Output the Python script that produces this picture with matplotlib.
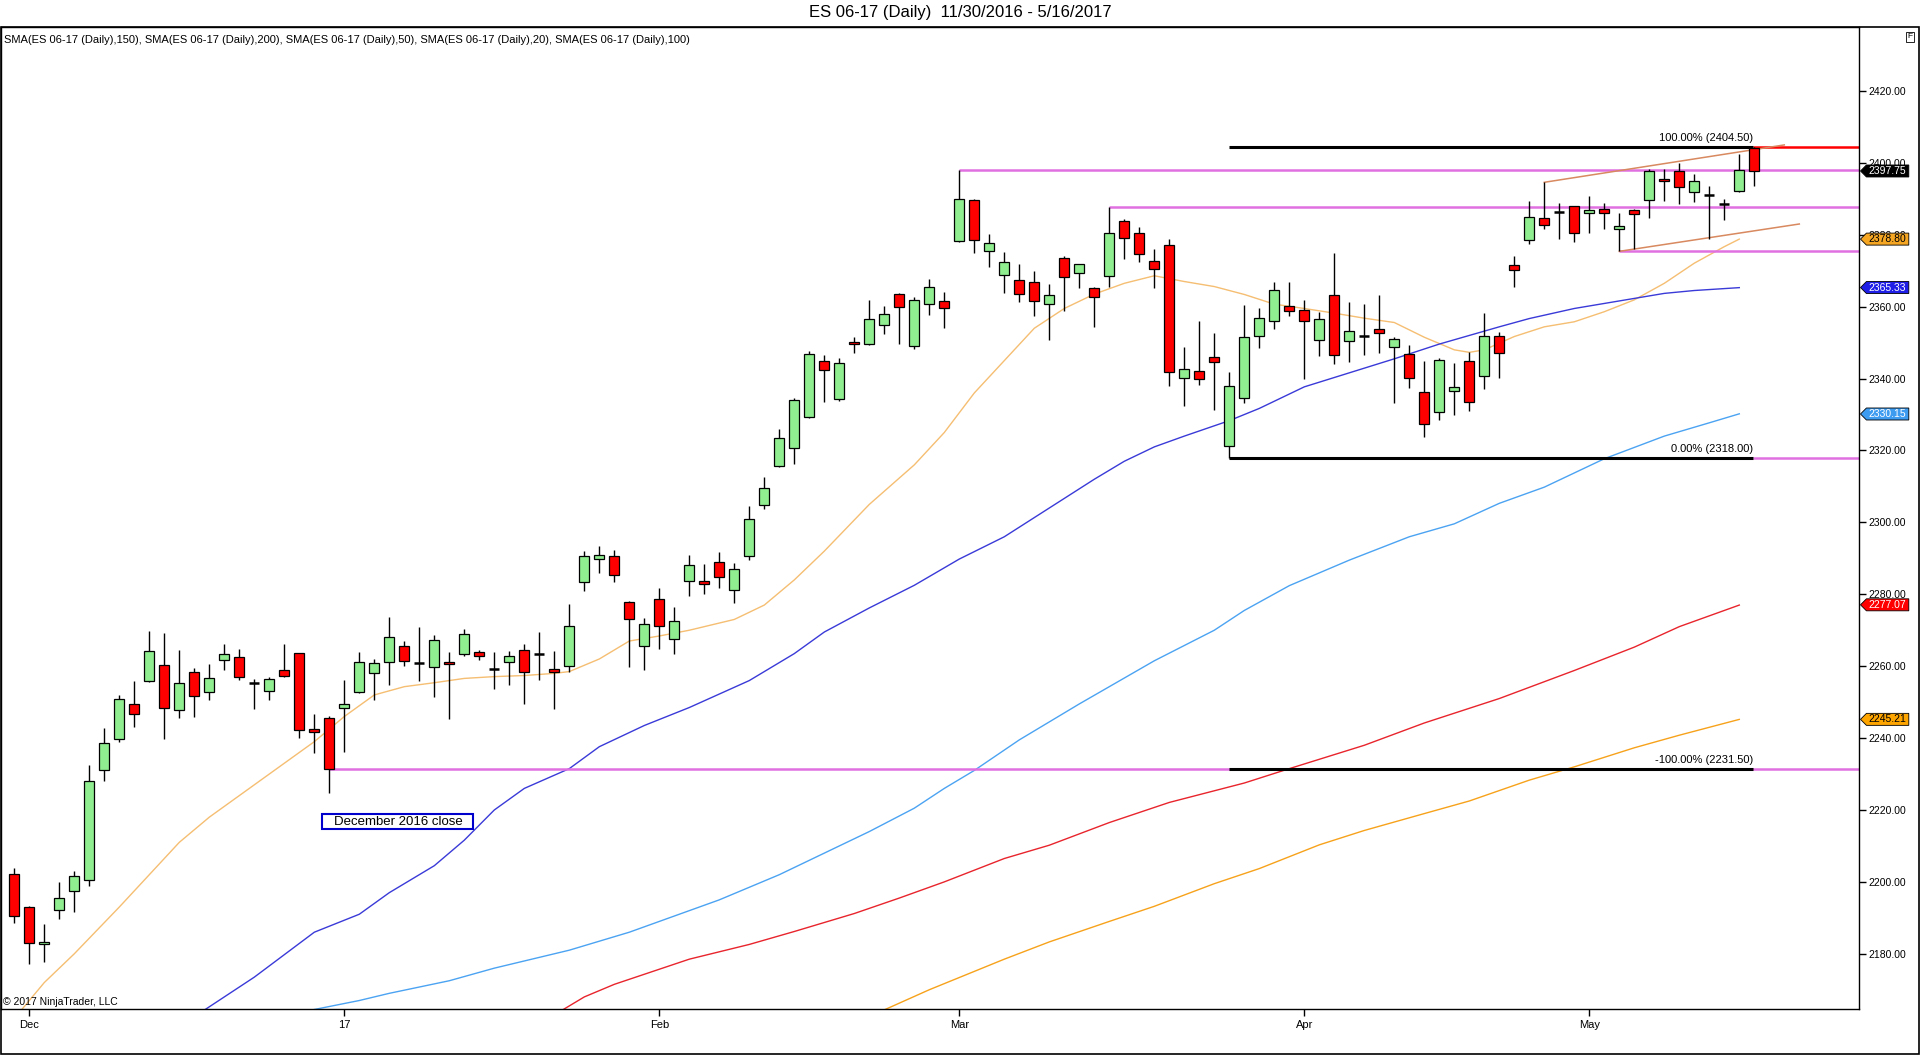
import matplotlib
matplotlib.use('Agg')
import matplotlib.pyplot as plt
from matplotlib.patches import Rectangle, Polygon
import numpy as np

plt.rcParams['font.family'] = ['Liberation Sans', 'DejaVu Sans']

# daily bars 11/30/2016 .. 5/16/2017 (index 0 = Nov 30)
opens = [2202.2, 2192.9, 2182.6, 2192.2, 2197.4, 2200.4, 2231.1, 2239.7, 2249.4, 2256.0,
         2260.2, 2247.7, 2258.3, 2252.7, 2261.6, 2262.5, 2255.4, 2253.2, 2258.9, 2263.6,
         2242.5, 2245.5, 2248.5, 2252.9, 2258.2, 2261.3, 2265.5, 2261.0, 2259.9, 2261.2,
         2263.3, 2263.9, 2259.1, 2261.3, 2264.4, 2263.3, 2259.1, 2260.1, 2283.3, 2289.7,
         2290.6, 2277.8, 2265.5, 2278.7, 2267.5, 2283.6, 2283.6, 2288.9, 2281.1, 2290.6,
         2304.7, 2315.8, 2320.6, 2329.4, 2344.8, 2334.4, 2350.3, 2349.7, 2354.8, 2363.4,
         2349.0, 2360.7, 2361.5, 2378.4, 2389.6, 2375.6, 2368.9, 2367.4, 2366.8, 2360.7,
         2373.5, 2369.3, 2365.1, 2368.6, 2383.7, 2380.4, 2372.6, 2377.1, 2340.1, 2342.2,
         2346.1, 2321.2, 2334.5, 2351.8, 2355.9, 2360.1, 2359.0, 2350.6, 2363.2, 2350.4,
         2351.9, 2353.9, 2348.9, 2346.8, 2336.2, 2330.6, 2336.5, 2344.8, 2340.8, 2351.9,
         2371.5, 2378.5, 2384.6, 2386.4, 2387.9, 2386.0, 2387.3, 2381.6, 2386.8, 2389.8,
         2395.6, 2397.7, 2391.8, 2391.2, 2388.7, 2392.3, 2404.2]
highs = [2204.0, 2193.2, 2188.2, 2200.0, 2203.0, 2232.5, 2242.7, 2252.0, 2255.9, 2269.8,
         2269.1, 2264.5, 2259.4, 2260.6, 2266.2, 2264.8, 2256.5, 2257.1, 2266.2, 2263.8,
         2246.7, 2246.1, 2256.2, 2263.9, 2262.0, 2273.8, 2267.0, 2271.0, 2268.7, 2263.9,
         2270.3, 2264.4, 2263.9, 2264.2, 2266.2, 2269.5, 2264.2, 2277.3, 2292.0, 2293.4,
         2292.3, 2278.1, 2273.3, 2281.8, 2276.5, 2290.9, 2288.4, 2291.8, 2288.6, 2304.6,
         2312.7, 2326.0, 2334.5, 2347.8, 2346.6, 2345.6, 2351.6, 2361.9, 2360.2, 2363.7,
         2362.6, 2367.7, 2364.0, 2398.0, 2390.0, 2380.2, 2375.3, 2371.9, 2369.9, 2366.3,
         2374.1, 2371.8, 2365.4, 2387.7, 2384.3, 2382.3, 2376.1, 2378.8, 2348.9, 2356.0,
         2352.7, 2341.7, 2360.4, 2359.6, 2366.8, 2366.8, 2361.9, 2358.5, 2374.9, 2361.2,
         2360.8, 2363.3, 2351.5, 2349.3, 2344.9, 2345.8, 2344.4, 2347.5, 2358.3, 2352.9,
         2374.1, 2389.4, 2394.6, 2388.9, 2388.0, 2390.8, 2388.9, 2386.0, 2387.2, 2398.2,
         2398.2, 2399.9, 2396.9, 2393.6, 2389.9, 2402.4, 2404.5]
lows = [2188.5, 2177.1, 2177.8, 2189.8, 2191.7, 2198.8, 2228.2, 2239.0, 2243.2, 2255.7,
        2239.7, 2245.7, 2246.0, 2250.6, 2258.8, 2256.2, 2248.2, 2250.6, 2257.1, 2240.1,
        2235.9, 2224.6, 2236.0, 2252.6, 2250.6, 2254.8, 2260.1, 2255.9, 2251.5, 2245.2,
        2262.9, 2261.8, 2253.7, 2254.8, 2249.6, 2256.2, 2248.2, 2258.3, 2281.0, 2286.0,
        2283.5, 2259.9, 2258.8, 2264.9, 2263.3, 2279.6, 2280.2, 2281.8, 2277.7, 2289.6,
        2303.6, 2315.3, 2316.2, 2328.9, 2333.6, 2333.9, 2347.2, 2349.3, 2352.4, 2349.6,
        2348.3, 2357.8, 2354.2, 2378.1, 2374.8, 2371.1, 2363.9, 2361.4, 2357.5, 2350.8,
        2358.9, 2365.3, 2354.4, 2365.6, 2373.3, 2372.5, 2365.3, 2337.8, 2332.5, 2338.1,
        2331.4, 2318.0, 2333.3, 2348.6, 2353.9, 2357.5, 2339.8, 2346.4, 2344.0, 2344.7,
        2346.6, 2347.2, 2333.1, 2337.3, 2323.8, 2328.5, 2329.9, 2331.1, 2337.0, 2340.3,
        2365.6, 2377.3, 2381.7, 2378.7, 2378.0, 2380.6, 2381.7, 2375.4, 2376.0, 2384.7,
        2389.4, 2388.7, 2389.1, 2378.9, 2384.1, 2392.0, 2393.6]
closes = [2190.6, 2182.9, 2183.3, 2195.4, 2201.5, 2228.1, 2238.5, 2250.8, 2246.6, 2264.1,
          2248.5, 2255.2, 2251.8, 2256.6, 2263.3, 2257.1, 2255.4, 2256.3, 2257.4, 2242.2,
          2241.8, 2231.5, 2249.4, 2261.1, 2260.8, 2268.0, 2261.5, 2261.0, 2267.2, 2260.5,
          2268.9, 2262.7, 2259.1, 2262.7, 2258.3, 2263.3, 2258.5, 2271.2, 2290.6, 2290.8,
          2285.5, 2273.0, 2271.6, 2271.3, 2272.5, 2288.1, 2283.0, 2284.7, 2286.9, 2300.9,
          2309.5, 2323.4, 2334.0, 2346.8, 2342.5, 2344.2, 2349.5, 2356.5, 2357.9, 2360.0,
          2361.8, 2365.4, 2359.5, 2389.9, 2378.6, 2377.6, 2372.3, 2363.4, 2361.5, 2363.2,
          2368.2, 2371.8, 2362.6, 2380.4, 2379.2, 2374.6, 2370.4, 2341.7, 2342.8, 2339.8,
          2344.5, 2337.8, 2351.5, 2356.8, 2364.6, 2358.7, 2355.9, 2356.5, 2346.5, 2353.3,
          2351.9, 2352.6, 2351.1, 2340.3, 2327.3, 2345.1, 2337.6, 2333.4, 2351.8, 2347.0,
          2370.1, 2384.9, 2382.6, 2386.4, 2380.4, 2386.8, 2386.0, 2382.5, 2385.7, 2397.7,
          2394.9, 2393.2, 2395.1, 2391.2, 2388.7, 2398.1, 2397.75]

tick_pos = [1, 22, 43, 63, 86, 105]
tick_labels = ['Dec', '17', 'Feb', 'Mar', 'Apr', 'May']

# moving averages (bar index, value)
sma20_x = [0, 1, 2, 4, 7, 9, 11, 13, 16, 18, 20, 22, 24, 26, 28, 30, 32, 34, 36, 37, 39, 41, 43, 45,
           48, 50, 52, 54, 57, 60, 62, 64, 66, 68, 70, 72, 74, 76, 78, 80, 82, 84, 86, 88, 90, 92,
           94, 96, 97, 98, 100, 102, 104, 106, 108, 110, 112, 114, 115]
sma20_y = [2162, 2167, 2172, 2180, 2193, 2202, 2211, 2218, 2227, 2233, 2239, 2246, 2252, 2254.3,
           2255.4, 2256.6, 2257.1, 2257.4, 2258, 2258.5, 2262, 2267, 2268.4, 2270, 2273, 2277, 2284,
           2292, 2305, 2316, 2325, 2336, 2345, 2354, 2359.5, 2363.5, 2366.5, 2368.6, 2367, 2365.6,
           2363.4, 2360.7, 2359.5, 2358.2, 2356.8, 2355.6, 2351.5, 2348, 2347.3, 2348, 2351.7,
           2354.4, 2355.8, 2358.6, 2361.9, 2366.5, 2372.1, 2376.7, 2378.8]
sma50_x = [12, 16, 20, 23, 25, 28, 30, 32, 34, 37, 39, 42, 45, 49, 52, 54, 57, 60, 63, 66, 69, 72,
           74, 76, 78, 81, 83, 86, 89, 92, 95, 99, 101, 104, 106, 110, 112, 115]
sma50_y = [2162.5, 2173.5, 2186, 2191, 2197, 2204.5, 2211.6, 2220, 2226, 2231.5, 2237.6, 2243.5,
           2248.5, 2256, 2263.5, 2269.5, 2276.2, 2282.5, 2289.8, 2296, 2304, 2312, 2317, 2321,
           2324, 2328.3, 2331.7, 2337.7, 2341.6, 2345.5, 2349.6, 2354.4, 2356.7, 2359.5, 2360.9,
           2363.7, 2364.5, 2365.3]
sma100_x = [20, 23, 25, 29, 32, 37, 41, 43, 47, 51, 54, 57, 60, 62, 64, 67, 71, 76, 80, 82, 85, 89,
            93, 96, 99, 102, 106, 110, 113, 115]
sma100_y = [2164.5, 2167, 2169, 2172.5, 2176, 2181, 2186, 2189, 2195, 2202, 2208, 2214, 2220.5,
            2226, 2231, 2239.5, 2249.5, 2261.5, 2270, 2275.5, 2282.4, 2289.5, 2296, 2299.6, 2305.3,
            2309.8, 2317.7, 2324, 2327.7, 2330.2]
sma150_x = [36, 38, 40, 45, 49, 52, 56, 59, 62, 66, 69, 73, 77, 82, 85, 90, 94, 99, 104, 108, 111, 115]
sma150_y = [2163, 2168, 2171.5, 2178.5, 2182.6, 2186.2, 2191.2, 2195.5, 2200, 2206.5, 2210.2,
            2216.5, 2222.1, 2227.5, 2231.5, 2238, 2244.2, 2251, 2258.8, 2265.3, 2271, 2277.0]
sma200_x = [58, 61, 66, 69, 73, 76, 80, 83, 87, 90, 94, 97, 101, 104, 108, 111, 115]
sma200_y = [2164.4, 2170, 2178.5, 2183.3, 2189, 2193.2, 2199.5, 2203.7, 2210.3, 2214.3, 2219,
            2222.5, 2228.3, 2232, 2237.3, 2240.8, 2245.2]

fib_levels = [2404.50, 2318.00, 2231.50]
fib_labels = ['100.00% (2404.50)', '0.00% (2318.00)', '-100.00% (2231.50)']
tags = [(2397.75, '#000000', 'white'), (2378.80, '#F5A623', 'black'), (2365.33, '#1E1EE6', 'white'),
        (2330.15, '#3D9BF0', 'white'), (2277.07, '#FF0000', 'white'), (2245.21, '#FFA500', 'black')]

W, H = 1920, 1055
L, R, T, B = 1, 1859, 27, 1009
fig = plt.figure(figsize=(W / 100, H / 100), dpi=100)
ax = fig.add_axes([L / W, 1 - B / H, (R - L) / W, (B - T) / H])
ax.set_xlim((L - 14.3) / 15, (R - 14.3) / 15)
ax.set_ylim(2164.64, 2437.8)

# moving averages
ax.plot(sma20_x, sma20_y, color='#F5BE72', lw=1.0, zorder=1)
ax.plot(sma50_x, sma50_y, color='#3A3AD8', lw=1.0, zorder=1)
ax.plot(sma100_x, sma100_y, color='#4BA3F2', lw=1.0, zorder=1)
ax.plot(sma150_x, sma150_y, color='#E8242C', lw=1.0, zorder=1)
ax.plot(sma200_x, sma200_y, color='#F7A21B', lw=1.0, zorder=1)

# drawings
xmax = 124
mag = '#E070E0'
ax.hlines(2398.0, 63, xmax, color=mag, lw=1.8, zorder=1.5)
ax.hlines(2387.6, 73, xmax, color=mag, lw=1.8, zorder=1.5)
ax.hlines(2375.4, 107, xmax, color=mag, lw=1.8, zorder=1.5)
ax.hlines(2231.5, 21, xmax, color=mag, lw=1.8, zorder=1.5)
ax.hlines(2318.0, 115.9, xmax, color=mag, lw=1.8, zorder=1.5)
ax.hlines(2404.5, 115.9, xmax, color='#FF0000', lw=1.8, zorder=1.5)
for lvl, lab in zip(fib_levels, fib_labels):
    ax.hlines(lvl, 81, 115.9, color='black', lw=2.2, zorder=1.6)
    ax.text(115.9, lvl + 0.9, lab, ha='right', va='bottom', fontsize=8, zorder=4)
ax.plot([102, 118], [2394.6, 2405.0], color='#D8895F', lw=1.1, zorder=1.7)
ax.plot([107, 119], [2375.4, 2383.0], color='#D8895F', lw=1.1, zorder=1.7)

# candles
x = np.arange(len(opens))
o, h, l, c = map(np.array, (opens, highs, lows, closes))
ax.vlines(x, l, h, color='black', lw=1.0, zorder=2)
doji = np.abs(c - o) < 0.3
body_col = np.where(c >= o, '#90EE90', '#FF0000')
ax.bar(x[~doji], np.abs(c - o)[~doji], bottom=np.minimum(o, c)[~doji], width=0.667,
       color=body_col[~doji], edgecolor='black', linewidth=0.9, zorder=3)
ax.hlines(c[doji], x[doji] - 0.333, x[doji] + 0.333, color='black', lw=1.8, zorder=3)

# december close box
ax.add_patch(Rectangle((20.54, 2214.6), 10.04, 4.3, fill=False, ec='#0000CC', lw=1.5, zorder=4))
ax.text(21.3, 2216.75, 'December 2016 close', ha='left', va='center', fontsize=9.5, zorder=4)

# axes styling
ax.yaxis.tick_right()
yt = list(range(2180, 2421, 20))
ax.set_yticks(yt)
ax.set_yticklabels(['%.2f' % v for v in yt])
ax.set_xticks(tick_pos)
ax.set_xticklabels(tick_labels)
ax.tick_params(axis='y', direction='out', length=5, width=1, labelsize=7.5, pad=2)
ax.tick_params(axis='x', direction='out', length=5, width=1, labelsize=8, pad=3)
for s in ax.spines.values():
    s.set_linewidth(1.0)

# price tags on the axis
ytr = ax.get_yaxis_transform()
hh = 6 / 3.595
x_tip, x_l, x_r = 1.0008, 1.0040, 1.0268
for val, fc, tc in tags:
    ax.add_patch(Polygon([(x_tip, val), (x_l, val + hh), (x_r, val + hh), (x_r, val - hh), (x_l, val - hh)],
                         closed=True, fc=fc, ec='black', lw=0.6, transform=ytr, clip_on=False, zorder=6))
    ax.text((x_l + x_r) / 2, val, '%.2f' % val, transform=ytr, ha='center', va='center',
            fontsize=7.5, color=tc, clip_on=False, zorder=7)

# frame and texts
fig.add_artist(Rectangle((0.5 / W, 1.5 / H), (W - 1.5) / W, (H - T - 1.5) / H, fill=False,
                         ec='black', lw=1.2, transform=fig.transFigure))
fig.text(0.5, 1 - 13 / H, 'ES 06-17 (Daily)  11/30/2016 - 5/16/2017', ha='center', va='center', fontsize=12)
fig.text(4 / W, 1 - 40 / H, 'SMA(ES 06-17 (Daily),150), SMA(ES 06-17 (Daily),200), SMA(ES 06-17 (Daily),50), '
         'SMA(ES 06-17 (Daily),20), SMA(ES 06-17 (Daily),100)', ha='left', va='center', fontsize=8)
fig.text(3 / W, 1 - 1002 / H, '\u00a9 2017 NinjaTrader, LLC', ha='left', va='center', fontsize=7.5)
fig.text(1910 / W, 1 - 37 / H, 'F', ha='center', va='center', fontsize=6,
         bbox=dict(boxstyle='square,pad=0.2', fc='white', ec='black', lw=0.6))

fig.savefig('out.png', dpi=100)
